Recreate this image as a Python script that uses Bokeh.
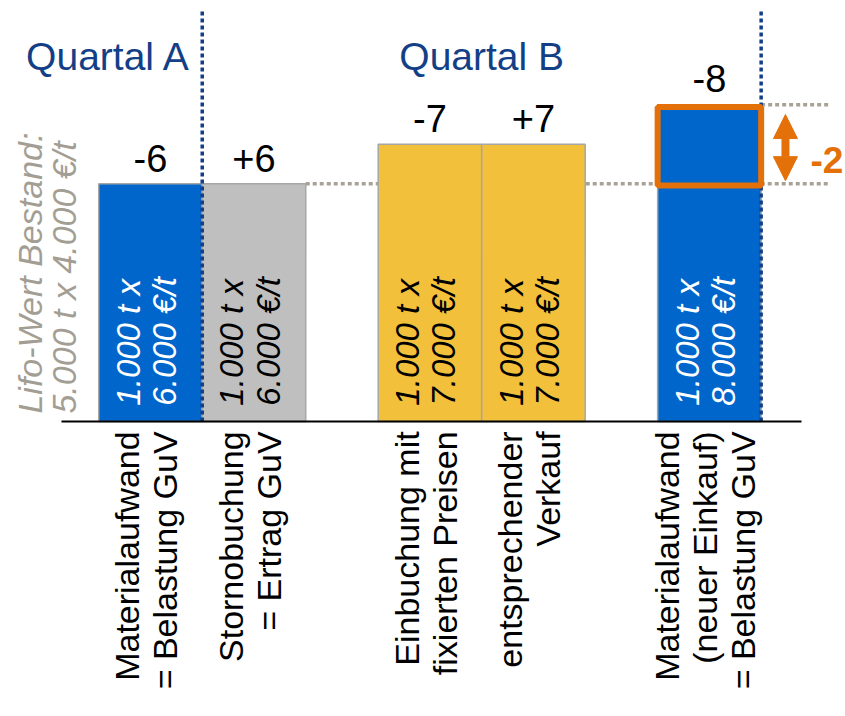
import numpy as np
from bokeh.plotting import figure
from bokeh.models import ColumnDataSource, Range1d, Arrow, NormalHead
from bokeh.core.properties import value
from bokeh.embed import file_html
from bokeh.resources import INLINE

# ---------------- data ----------------
categories = [
    "Materialaufwand\n= Belastung GuV",
    "Stornobuchung\n= Ertrag GuV",
    "Einbuchung mit\nfixierten Preisen",
    "entsprechender\nVerkauf",
    "Materialaufwand\n(neuer Einkauf)\n= Belastung GuV",
]
values = [6, 6, 7, 7, 8]
value_labels = ["-6", "+6", "-7", "+7", "-8"]
bar_texts = [
    "1.000 t x\n6.000 €/t",
    "1.000 t x\n6.000 €/t",
    "1.000 t x\n7.000 €/t",
    "1.000 t x\n7.000 €/t",
    "1.000 t x\n8.000 €/t",
]
bar_kinds = ["Aufwand", "Storno", "Einbuchung", "Verkauf", "Aufwand"]
quarters = ["Quartal A", "Quartal B"]
lifo_text = "Lifo-Wert Bestand:\n5.000 t x 4.000 €/t"
old_value = 6
new_value = 8
delta_label = "-2"

# ---------------- styling / layout ----------------
FONT = value("Liberation Sans")
kind_fill = {"Aufwand": "#0066CC", "Storno": "#BFBFBF", "Einbuchung": "#F2C03A", "Verkauf": "#F2C03A"}
kind_text = {"Aufwand": "white", "Storno": "black", "Einbuchung": "black", "Verkauf": "black"}
ORANGE = "#E4700A"
NAVY = "#133F87"
DOT_GRAY = "#A8A296"

xpos = [0.0, 1.0, 2.7, 3.7, 5.4]
bar_w = 1.0

src = ColumnDataSource(dict(
    x=xpos,
    top=values,
    cat=categories,
    vlab=value_labels,
    vlab_y=[v + 0.65 for v in values],
    btxt=bar_texts,
    fill=[kind_fill[k] for k in bar_kinds],
    tcol=[kind_text[k] for k in bar_kinds],
))

p = figure(width=845, height=716, output_backend="svg", toolbar_location=None,
           x_range=Range1d(-1.449, 6.715), y_range=Range1d(-7.45, 10.63),
           x_axis_type=None, y_axis_type=None, min_border=0,
           outline_line_color=None, background_fill_color="white",
           border_fill_color="white")
p.grid.visible = False

x_end_guides = 6.57
divider_a = xpos[0] + bar_w / 2
divider_b = xpos[4] + bar_w / 2

# gray dotted guide lines (old level and new level)
p.segment(x0=[xpos[1] + bar_w / 2, divider_b], x1=[x_end_guides, x_end_guides],
          y0=[old_value, new_value], y1=[old_value, new_value],
          line_color=DOT_GRAY, line_width=3.5, line_dash="4 3")

# bars
p.vbar(x="x", top="top", bottom=0, width=bar_w, source=src,
       fill_color="fill", line_color="#A6A6A6", line_width=1.5)

# blue dotted dividers
p.segment(x0=[divider_a, divider_b], x1=[divider_a, divider_b],
          y0=[0, 0], y1=[10.37, 10.37],
          line_color=NAVY, line_width=3.5, line_dash="4 3")

# orange difference box
p.quad(left=[xpos[4] - bar_w / 2], right=[xpos[4] + bar_w / 2],
       bottom=[old_value - 0.04], top=[new_value - 0.06],
       fill_color=None, line_color=ORANGE, line_width=6)

# baseline
p.segment(x0=[-0.86], x1=[6.29], y0=[0], y1=[0], line_color="black", line_width=2)

# value labels above bars
p.text(x="x", y="vlab_y", text="vlab", source=src, text_font=FONT,
       text_font_size="38px", text_align="center", text_baseline="alphabetic",
       text_color="black")

# texts inside bars
p.text(x="x", y=0.4, text="btxt", source=src, angle=np.pi / 2, text_font=FONT,
       text_font_size="33px", text_font_style="italic", text_align="left",
       text_baseline="middle", text_color="tcol", text_line_height=0.975,
       x_offset=-4)

# category labels below baseline
p.text(x="x", y=-0.25, text="cat", source=src, angle=np.pi / 2, text_font=FONT,
       text_font_size="34px", text_align="right", text_baseline="middle",
       text_color="black", text_line_height=1.0, x_offset=-4)

# Lifo text on the left
p.text(x=[-1.0], y=[0.2], text=[lifo_text], angle=np.pi / 2, text_font=FONT,
       text_font_size="34px", text_font_style="italic", text_align="left",
       text_baseline="middle", text_color="#A39E93", text_line_height=0.9)

# quarter headers
p.text(x=[divider_a - 0.11], y=[9.22], text=[quarters[0]], text_font=FONT,
       text_font_size="39px", text_align="right", text_baseline="alphabetic",
       text_color=NAVY)
p.text(x=[(xpos[2] + xpos[3]) / 2], y=[9.22], text=[quarters[1]], text_font=FONT,
       text_font_size="39px", text_align="center", text_baseline="alphabetic",
       text_color=NAVY)

# difference arrow and label
arrow_x = 6.135
p.add_layout(Arrow(start=NormalHead(size=24, fill_color=ORANGE, line_color=ORANGE),
                   end=NormalHead(size=24, fill_color=ORANGE, line_color=ORANGE),
                   x_start=arrow_x, x_end=arrow_x,
                   y_start=old_value + 0.08, y_end=new_value - 0.25,
                   line_color=ORANGE, line_width=8))
p.text(x=[6.377], y=[6.61], text=[delta_label], text_font=FONT,
       text_font_size="37px", text_font_style="bold", text_align="left",
       text_baseline="alphabetic", text_color=ORANGE)

open("out.html", "w").write(file_html(p, INLINE))
